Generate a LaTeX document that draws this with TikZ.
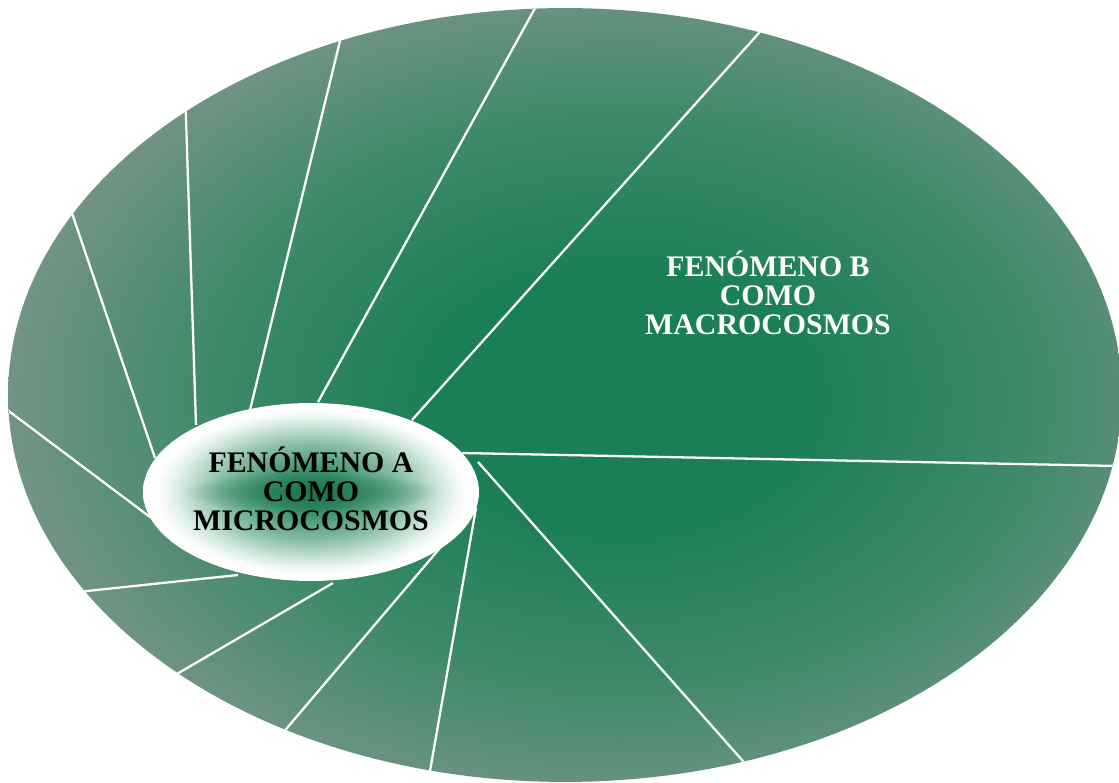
\documentclass[tikz,border=0pt]{standalone}
\usepackage{fontspec}
\setmainfont{Liberation Serif}
\usetikzlibrary{shapes.geometric,calc,fadings}
\definecolor{gdark}{RGB}{26,127,84}
\definecolor{gmid}{RGB}{62,138,104}
\definecolor{gedge}{RGB}{114,148,133}
\definecolor{gcore}{RGB}{28,120,80}
\definecolor{gc1}{RGB}{60,145,105}
\definecolor{gc2}{RGB}{140,192,168}
\definecolor{gc3}{RGB}{220,238,230}
\pgfdeclareradialshading{bigsh}{\pgfpoint{0bp}{0bp}}{color(0bp)=(gdark); color(7bp)=(gdark); color(16bp)=(gmid); color(24bp)=(gedge); color(50bp)=(gedge)}
\pgfdeclareradialshading{smallsh}{\pgfpoint{0bp}{0bp}}{color(0bp)=(gcore); color(6bp)=(gc1); color(14bp)=(gc2); color(20bp)=(gc3); color(23bp)=(white); color(50bp)=(white)}
\tikzfading[name=streakfade, inner color=transparent!10, outer color=transparent!100]
\tikzset{
  spoke/.style={draw=white, line width=1.3pt},
  labtxt/.style={font=\bfseries\fontsize{17}{16.4}\selectfont, align=center, inner sep=0pt},
}
\begin{document}
\begin{tikzpicture}[x=0.02cm, y=-0.02cm]
\useasboundingbox (0,0) rectangle (1119,783);
\fill[white] (0,0) rectangle (1119,783);
% big ellipse
\node[ellipse, minimum width=22.28cm, minimum height=15.48cm, inner sep=0pt] (B) at (565,395) {};
\begin{scope}
  \clip (565,395) ellipse (11.14cm and 7.74cm);
  \shade[shading=bigsh] (-20,-42) rectangle (1260,838);
  % spokes
  \coordinate (s1) at (412,420);  \coordinate (e1) at (758,34);
  \coordinate (s2) at (318,402);  \coordinate (e2) at (534,10);
  \coordinate (s3) at (250,410);  \coordinate (e3) at (339,45);
  \coordinate (s4) at (196,425);  \coordinate (e4) at (186,118);
  \coordinate (s5) at (155,458);  \coordinate (e5) at (75,222);
  \coordinate (s6) at (150,517);  \coordinate (e6) at (10,412);
  \coordinate (s7) at (238,575);  \coordinate (e7) at (87,591);
  \coordinate (s8) at (333,583);  \coordinate (e8) at (182,671);
  \coordinate (s9) at (440,548);  \coordinate (e9) at (287,728);
  \coordinate (s10) at (476,508); \coordinate (e10) at (430,771);
  \coordinate (s11) at (478,462); \coordinate (e11) at (742,760);
  \coordinate (s12) at (462,453); \coordinate (e12) at (1118,466);
  \foreach \i in {1,...,12}{
    \draw[spoke] (s\i) -- ($(s\i)!1.12!(e\i)$);
  }
\end{scope}
% small ellipse
\node[ellipse, minimum width=6.72cm, minimum height=3.56cm, inner sep=0pt, shading=smallsh] (A) at (311,492) {};
\fill[gcore, path fading=streakfade] (A.center) ellipse (2.6cm and 0.42cm);
\node[labtxt, text=black] (ta) at (311,489) {FENÓMENO A\\COMO\\MICROCOSMOS};
\node[labtxt, text=white] (tb) at (768,293) {FENÓMENO B\\COMO\\MACROCOSMOS};
\end{tikzpicture}
\end{document}
